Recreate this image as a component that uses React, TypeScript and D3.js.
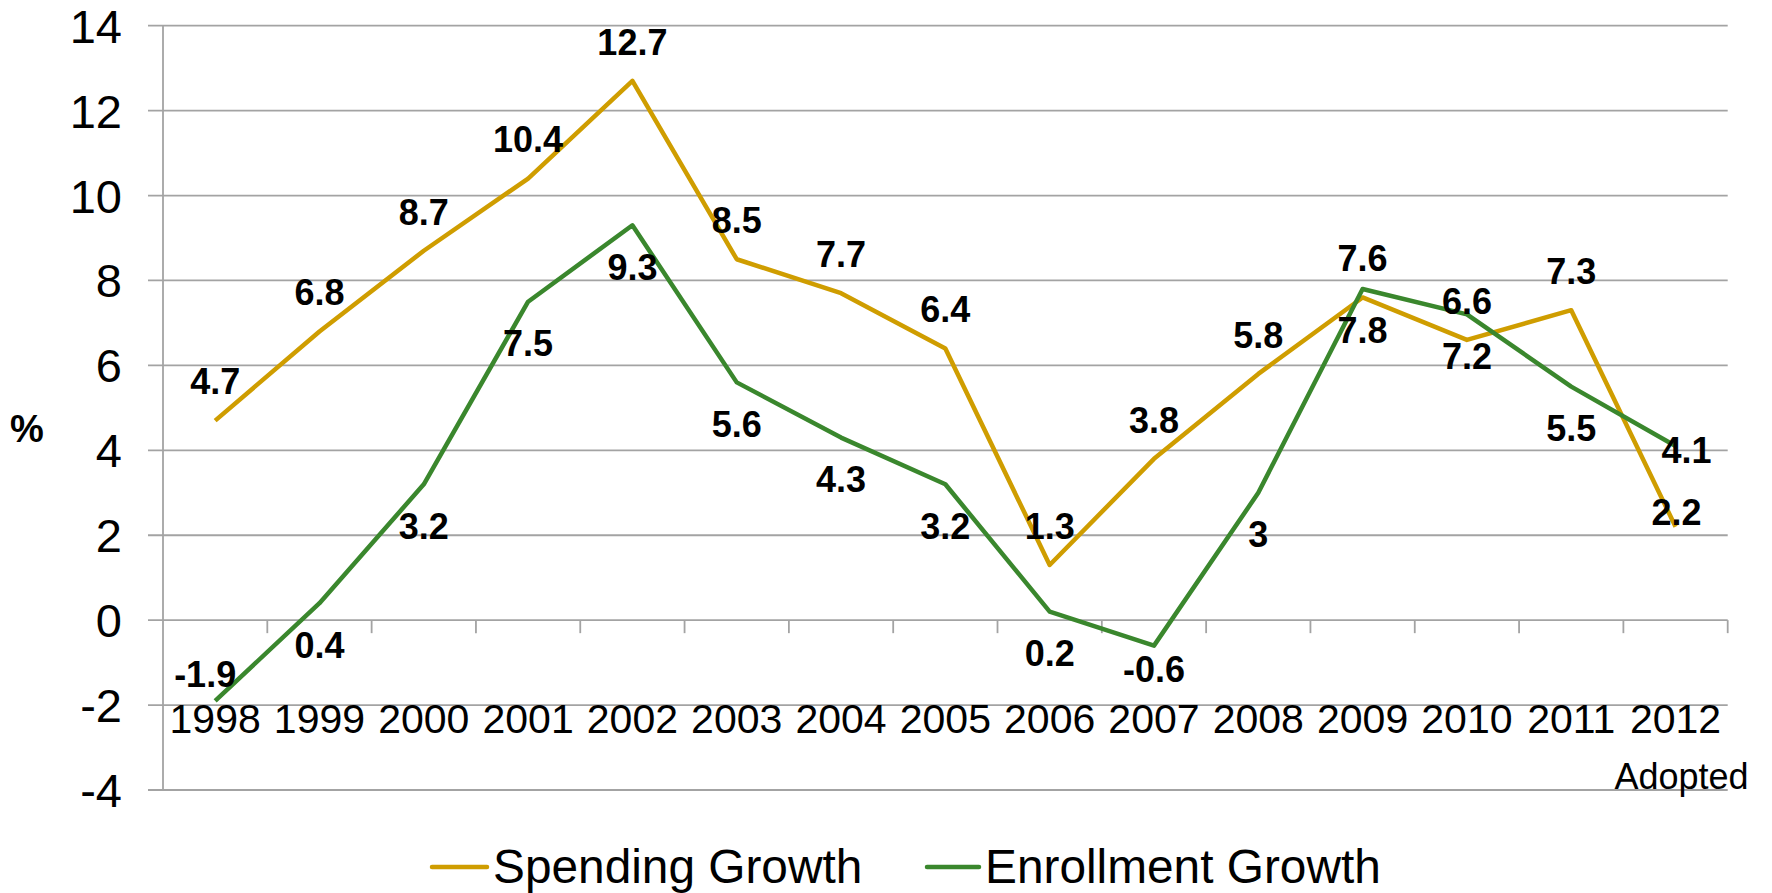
import React from "react";
import * as d3 from "d3";

const categories = ["1998", "1999", "2000", "2001", "2002", "2003", "2004", "2005", "2006", "2007", "2008", "2009", "2010", "2011", "2012"];
const spendingGrowth = [4.7, 6.8, 8.7, 10.4, 12.7, 8.5, 7.7, 6.4, 1.3, 3.8, 5.8, 7.6, 6.6, 7.3, 2.2];
const enrollmentGrowth = [-1.9, 0.4, 3.2, 7.5, 9.3, 5.6, 4.3, 3.2, 0.2, -0.6, 3, 7.8, 7.2, 5.5, 4.1];
const yTicks = [-4, -2, 0, 2, 4, 6, 8, 10, 12, 14];
const seriesNames = ["Spending Growth", "Enrollment Growth"];
const lastCategoryNote = "Adopted";

const W = 1772;
const H = 893;
const GOLD = "#CF9D00";
const GREEN = "#3A872D";
const GRID = "#A3A3A3";
const FONT = "'Liberation Sans', Arial, sans-serif";

// label offsets (center of label relative to point) for a few labels that deviate
const spendOverride: Record<number, [number, number]> = { 14: [1, -15] };
const enrollOverride: Record<number, [number, number]> = { 0: [-10, -27], 9: [0, 23], 14: [11, 4] };

export default function App() {
  const x = d3.scaleBand<string>().domain(categories).range([163, 1727.7]).padding(0);
  const y = d3.scaleLinear().domain([-4, 14]).range([790, 25.7]);
  const cx = (c: string) => (x(c) as number) + x.bandwidth() / 2;

  const line = d3
    .line<number>()
    .x((_, i) => cx(categories[i]))
    .y((d) => y(d));

  const labelFs = 36;
  const capHalf = labelFs * 0.358;

  const renderLabels = (vals: number[], pos: "above" | "below", over: Record<number, [number, number]>) =>
    vals.map((v, i) => {
      const px = cx(categories[i]);
      const py = y(v);
      let dx = 0;
      let dy = pos === "above" ? -39 : 41.5;
      if (over[i]) {
        dx = over[i][0];
        dy = over[i][1];
      }
      return (
        <text
          key={pos + i}
          x={px + dx}
          y={py + dy + capHalf}
          textAnchor="middle"
          fontFamily={FONT}
          fontWeight="bold"
          fontSize={labelFs}
          fill="#000"
        >
          {String(v)}
        </text>
      );
    });

  const [x0, x1] = x.range();
  const boundaries = categories.map((c) => x(c) as number).concat([x1]);

  return (
    <svg
      width={W}
      height={H}
      style={{ position: "absolute", left: 0, top: 0, background: "#fff" }}
    >
      <rect x={0} y={0} width={W} height={H} fill="#fff" />
      {/* gridlines */}
      {yTicks.map((t) => (
        <line key={"g" + t} x1={148} x2={x1} y1={y(t)} y2={y(t)} stroke={GRID} strokeWidth={1.8} />
      ))}
      {/* vertical axis */}
      <line x1={x0} x2={x0} y1={y(14)} y2={y(-4)} stroke={GRID} strokeWidth={1.8} />
      {/* category ticks on zero line */}
      {boundaries.slice(1).map((b, i) => (
        <line key={"t" + i} x1={b} x2={b} y1={y(0)} y2={y(0) + 13} stroke={GRID} strokeWidth={1.8} />
      ))}
      {/* y tick labels */}
      {yTicks.map((t) => (
        <text key={"yl" + t} x={122} y={y(t) + 17} textAnchor="end" fontFamily={FONT} fontSize={47} fill="#000">
          {String(t)}
        </text>
      ))}
      {/* x labels */}
      {categories.map((c) => (
        <text key={"xl" + c} x={cx(c)} y={733} textAnchor="middle" fontFamily={FONT} fontSize={41} fill="#000">
          {c}
        </text>
      ))}
      <text x={cx(categories[categories.length - 1]) + 6} y={789} textAnchor="middle" fontFamily={FONT} fontSize={36} fill="#000">
        {lastCategoryNote}
      </text>
      {/* % axis title */}
      <text x={27} y={442} textAnchor="middle" fontFamily={FONT} fontWeight="bold" fontSize={38} fill="#000">
        %
      </text>
      {/* lines */}
      <path d={line(spendingGrowth) || ""} fill="none" stroke={GOLD} strokeWidth={4.5} strokeLinejoin="round" />
      <path d={line(enrollmentGrowth) || ""} fill="none" stroke={GREEN} strokeWidth={4.5} strokeLinejoin="round" />
      {/* data labels */}
      {renderLabels(spendingGrowth, "above", spendOverride)}
      {renderLabels(enrollmentGrowth, "below", enrollOverride)}
      {/* legend */}
      <line x1={432} x2={487} y1={867} y2={867} stroke={GOLD} strokeWidth={4.5} strokeLinecap="round" />
      <text x={493} y={883} fontFamily={FONT} fontSize={47.8} fill="#000">
        {seriesNames[0]}
      </text>
      <line x1={927} x2={979} y1={867} y2={867} stroke={GREEN} strokeWidth={4.5} strokeLinecap="round" />
      <text x={985} y={883} fontFamily={FONT} fontSize={47.8} fill="#000">
        {seriesNames[1]}
      </text>
    </svg>
  );
}
